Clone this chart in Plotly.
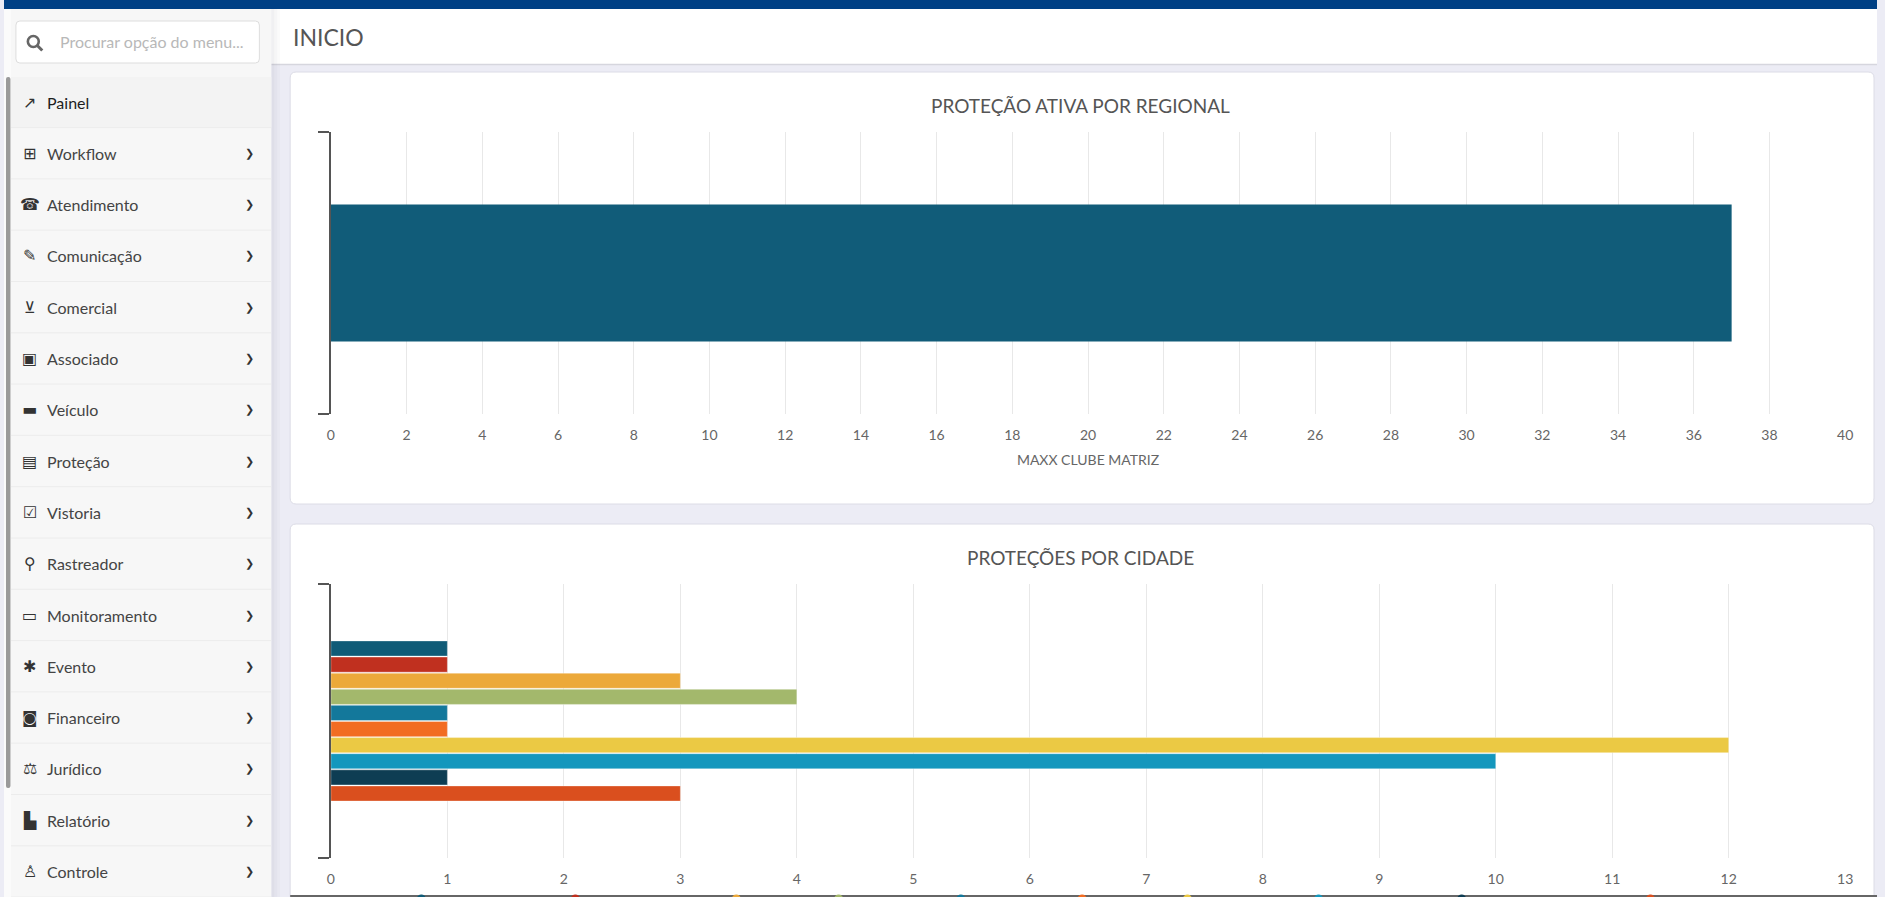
import plotly.graph_objects as go

W, H = 1885, 897

# ---------------- data ----------------
regional_categories = ["MAXX CLUBE MATRIZ"]
regional_values = [37]

cidade_names = ["Cidade 1", "Cidade 2", "Cidade 3", "Cidade 4", "Cidade 5",
                "Cidade 6", "Cidade 7", "Cidade 8", "Cidade 9", "Cidade 10"]
cidade_values = [1, 1, 3, 4, 1, 1, 12, 10, 1, 3]
cidade_colors = ["#105b77", "#c0301f", "#eca93a", "#a3b86c", "#13789b",
                 "#f26c22", "#ebc944", "#1497bd", "#0e3d53", "#da4f1e"]

menu_items = ["Painel", "Workflow", "Atendimento", "Comunicação", "Comercial",
              "Associado", "Veículo", "Proteção", "Vistoria", "Rastreador",
              "Monitoramento", "Evento", "Financeiro", "Jurídico", "Relatório",
              "Controle"]
menu_icons = ["↗", "⊞", "☎", "✎", "⊻", "▣", "▬", "▤", "☑", "⚲",
              "▭", "✱", "◙", "⚖", "▙", "♙"]

title_regional = "PROTEÇÃO ATIVA POR REGIONAL"
title_cidade = "PROTEÇÕES POR CIDADE"
page_title = "INICIO"
search_placeholder = "Procurar opção do menu..."

FONT = "Lato, 'Source Sans Pro', 'Open Sans', sans-serif"


def X(px):
    return px / W


def Y(py):
    return 1 - py / H


shapes = []


def rect(x0, y0, x1, y1, fill, line_color=None, line_width=0, layer="below"):
    shapes.append(dict(type="rect", xref="paper", yref="paper",
                       x0=X(x0), x1=X(x1), y0=Y(y1), y1=Y(y0),
                       fillcolor=fill, layer=layer,
                       line=dict(width=line_width, color=line_color or fill)))


def rrect(x0, y0, x1, y1, r, fill, line_color, line_width=1, layer="below"):
    rx, ry = r / W, r / H
    a, b = X(x0), X(x1)
    t, u = Y(y0), Y(y1)
    path = (f"M{a+rx},{t} L{b-rx},{t} Q{b},{t} {b},{t-ry} L{b},{u+ry} "
            f"Q{b},{u} {b-rx},{u} L{a+rx},{u} Q{a},{u} {a},{u+ry} "
            f"L{a},{t-ry} Q{a},{t} {a+rx},{t} Z")
    shapes.append(dict(type="path", xref="paper", yref="paper", path=path,
                       fillcolor=fill, layer=layer,
                       line=dict(width=line_width, color=line_color)))


def hline(x0, x1, y, color, width=1, layer="below"):
    shapes.append(dict(type="line", xref="paper", yref="paper",
                       x0=X(x0), x1=X(x1), y0=Y(y), y1=Y(y),
                       line=dict(color=color, width=width), layer=layer))


# ---------------- page chrome ----------------
# header
rect(269, 9, W, 64, "#ffffff")
hline(269, W, 64.5, "#d6d6de", 1.5)
# cards
rrect(288, 72, 1882, 504, 6, "#ffffff", "#dcdce6", 1)
rrect(288, 524, 1882, 920, 6, "#ffffff", "#dcdce6", 1)
# sidebar shadow
rect(269, 9, 272, H, "rgba(0,0,30,0.06)")
rect(272, 9, 275, H, "rgba(0,0,30,0.035)")
rect(275, 9, 278, H, "rgba(0,0,30,0.015)")
# sidebar
rect(0, 9, 269, H, "#f7f7f7")
rect(0, 9, 7, H, "#fbfbfb")
rrect(2, 77, 6.5, 788, 2, "#9a9a9a", "#9a9a9a", 0)
# active row
rect(7, 77, 269, 127, "#f3f3f3")
# search box
rrect(12, 21, 257, 63, 4, "#ffffff", "#dddddd", 1)
shapes.append(dict(type="circle", xref="paper", yref="paper",
                   x0=X(24), x1=X(35), y0=Y(47), y1=Y(36),
                   line=dict(color="#666666", width=2.6), layer="above"))
shapes.append(dict(type="line", xref="paper", yref="paper",
                   x0=X(33.5), x1=X(38.5), y0=Y(45.5), y1=Y(50.5),
                   line=dict(color="#666666", width=3), layer="above"))
# row separators
ROW0, ROWSTEP = 102, 51.3
for i in range(len(menu_items)):
    hline(7, 269, ROW0 + ROWSTEP * i + 25.6, "#ececec", 1)
# top blue bar
rect(0, 0, W, 9, "#004085")
# bottom edge line + clipped legend dots
hline(288, W, 896, "#666666", 2, layer="above")
legend_dot_x = [420, 575, 737, 840, 963, 1085, 1191, 1323, 1467, 1657]
for cx, col in zip(legend_dot_x, cidade_colors):
    shapes.append(dict(type="circle", xref="paper", yref="paper",
                       x0=X(cx - 4.5), x1=X(cx + 4.5), y0=Y(903.5), y1=Y(894.5),
                       fillcolor=col, line=dict(width=0), layer="above"))

# ---------------- annotations ----------------
ann = []
ann.append(dict(text=page_title, x=X(289), y=Y(37), xanchor="left", yanchor="middle",
                font=dict(family=FONT, size=23, color="#555555")))
ann.append(dict(text=search_placeholder, x=X(54), y=Y(42), xanchor="left", yanchor="middle",
                font=dict(family=FONT, size=16, color="#b8b8b8")))
for i, (name, icon) in enumerate(zip(menu_items, menu_icons)):
    yy = ROW0 + ROWSTEP * i
    ann.append(dict(text=name, x=X(41), y=Y(yy), xanchor="left", yanchor="middle",
                    font=dict(family=FONT, size=16,
                              color="#1e1e1e" if i == 0 else "#444444")))
    ann.append(dict(text=icon, x=X(26), y=Y(yy), xanchor="center", yanchor="middle",
                    font=dict(family="DejaVu Sans", size=16, color="#333333")))
    if i > 0:
        ann.append(dict(text="❯", x=X(247), y=Y(yy), xanchor="center", yanchor="middle",
                        font=dict(family="DejaVu Sans", size=11, color="#333333")))
ann.append(dict(text=title_regional, x=X(1083), y=Y(105), xanchor="center", yanchor="middle",
                font=dict(family=FONT, size=19, color="#555555")))
ann.append(dict(text=title_cidade, x=X(1083), y=Y(557), xanchor="center", yanchor="middle",
                font=dict(family=FONT, size=19, color="#555555")))
for a in ann:
    a.update(xref="paper", yref="paper", showarrow=False)

# ---------------- traces ----------------
fig = go.Figure()
fig.add_trace(go.Bar(x=regional_values, y=regional_categories, orientation="h",
                     marker=dict(color="#115c79", line=dict(width=0)),
                     width=0.486, xaxis="x", yaxis="y", showlegend=False,
                     name=regional_categories[0]))
for name, val, col in zip(cidade_names, cidade_values, cidade_colors):
    fig.add_trace(go.Bar(x=[val], y=["Cidades"], orientation="h", name=name,
                         marker=dict(color=col, line=dict(width=1, color="rgba(255,255,255,0.35)")),
                         xaxis="x2", yaxis="y2", showlegend=False))

xdom = [X(329), X(1853)]
tickfont = dict(family=FONT, size=14, color="#666666")
common_x = dict(domain=xdom, showgrid=True, gridcolor="#e8e8e8", gridwidth=1,
                zeroline=False, showline=False, ticks="", tickfont=tickfont,
                ticklabelstandoff=11, fixedrange=True)
common_y = dict(showline=True, linecolor="#555555", linewidth=1.5, ticks="outside",
                ticklen=11, tickwidth=1.5, tickcolor="#555555", showticklabels=False,
                showgrid=False, zeroline=False, tickson="boundaries", fixedrange=True)

fig.update_layout(
    width=W, height=H, autosize=False,
    margin=dict(l=0, r=0, t=0, b=0, pad=0),
    paper_bgcolor="#ececf5", plot_bgcolor="rgba(0,0,0,0)",
    barmode="group", bargap=0.412, bargroupgap=0.06,
    font=dict(family=FONT),
    xaxis=dict(common_x, range=[0, 40], dtick=2, anchor="y",
               title=dict(text=regional_categories[0], standoff=13,
                          font=dict(family=FONT, size=14, color="#666666"))),
    yaxis=dict(common_y, domain=[Y(414), Y(132)], anchor="x"),
    xaxis2=dict(common_x, range=[0, 13], dtick=1, anchor="y2"),
    yaxis2=dict(common_y, domain=[Y(858), Y(584)], anchor="x2", autorange="reversed"),
    shapes=shapes,
    annotations=ann,
    showlegend=False,
)

fig.write_html("out.html", config={"displayModeBar": False},
               post_script="document.body.style.margin='0';document.body.style.overflow='hidden';")
